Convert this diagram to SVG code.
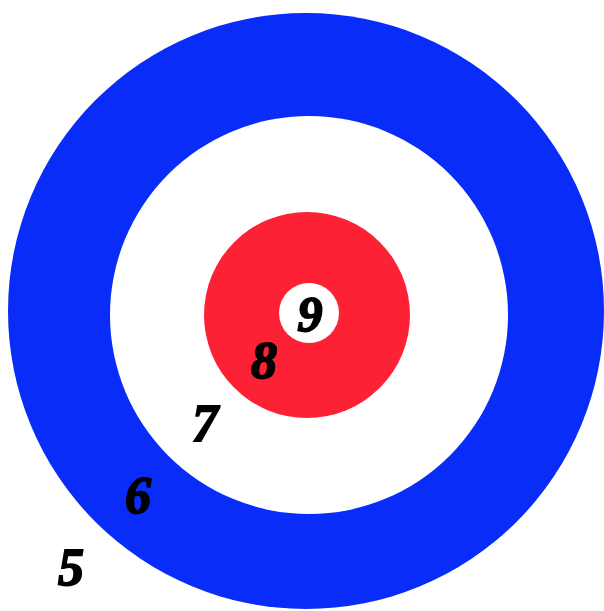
<svg xmlns="http://www.w3.org/2000/svg" width="604" height="611" viewBox="0 0 604 611">
<style>
.n{font-family:"Liberation Serif","DejaVu Serif",serif;font-weight:bold;font-style:italic;font-size:52px;fill:#000;stroke:#000;stroke-width:1.8;text-anchor:middle}
</style>
<rect width="604" height="611" fill="#fff"/>
<g id="ring-blue"><circle cx="306" cy="311" r="298" fill="#0a2cf8"/></g>
<g id="ring-white"><circle cx="309" cy="315" r="199" fill="#fff"/></g>
<g id="ring-red"><circle cx="307" cy="315" r="103" fill="#fd2136"/></g>
<g id="center"><circle cx="309" cy="313" r="30" fill="#fff"/></g>
<g id="labels">
<text class="n" x="310" y="331" style="font-size:50px">9</text>
<text class="n" x="264" y="378">8</text>
<text class="n" x="205" y="441">7</text>
<text class="n" x="138" y="513">6</text>
<text class="n" x="71" y="585">5</text>
</g>
</svg>
